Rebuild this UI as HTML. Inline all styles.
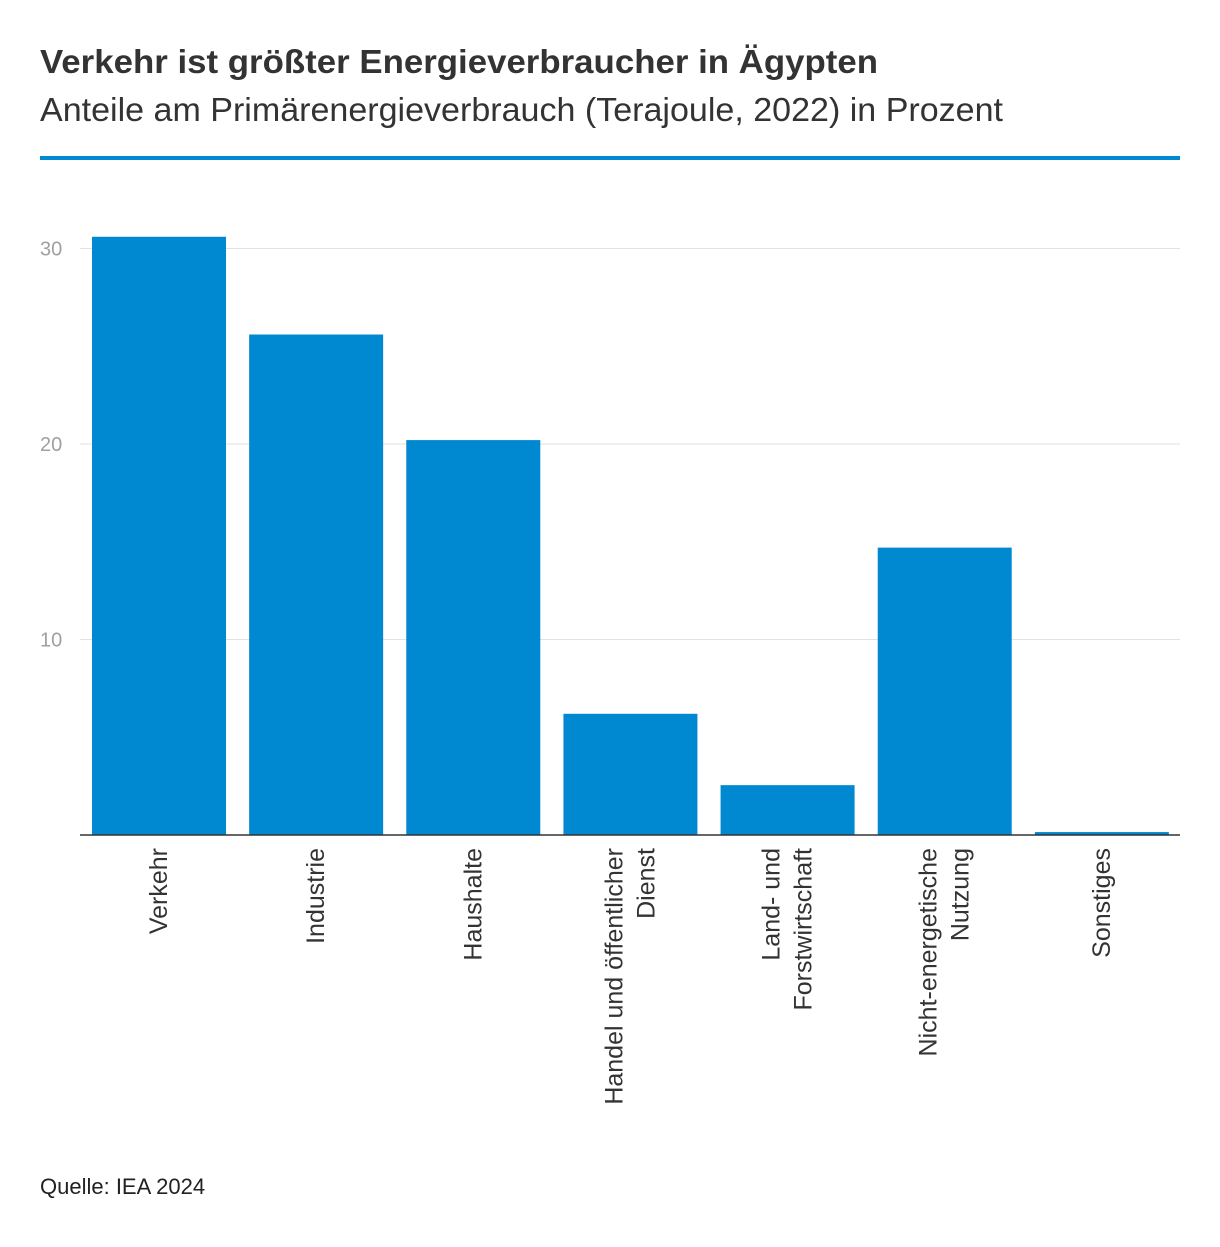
<!DOCTYPE html>
<html><head><meta charset="utf-8"><style>
body{margin:0;background:#fff;font-family:"Liberation Sans","DejaVu Sans",sans-serif;}
</style></head><body>
<svg width="1220" height="1242" xmlns="http://www.w3.org/2000/svg">
<text x="40" y="73" font-size="33" font-weight="bold" fill="#333" textLength="838" lengthAdjust="spacingAndGlyphs">Verkehr ist größter Energieverbraucher in Ägypten</text>
<text x="40" y="121" font-size="33" fill="#333" textLength="963" lengthAdjust="spacingAndGlyphs">Anteile am Primärenergieverbrauch (Terajoule, 2022) in Prozent</text>
<rect x="40" y="156" width="1140" height="4" fill="#0089d0"/>
<g id="grid"></g><g id="bars"></g><g id="xlabels"></g>
<line x1="80" y1="835" x2="1180" y2="835" stroke="#333" stroke-width="1.5"/>
<text x="40" y="1194" font-size="22" fill="#222">Quelle: IEA 2024</text>
</svg>
<script>
const categories=[["Verkehr"],["Industrie"],["Haushalte"],["Handel und öffentlicher","Dienst"],["Land- und","Forstwirtschaft"],["Nicht-energetische","Nutzung"],["Sonstiges"]];
const values=[30.6,25.6,20.2,6.2,2.55,14.7,0.15];
const ticks=[10,20,30];
const NS="http://www.w3.org/2000/svg";
const y0=835,pxPer=19.55,left=80,step=1100/7,pad=12,bw=134;
const y=v=>y0-v*pxPer;
const g=document.getElementById('grid');
ticks.forEach(t=>{
 const l=document.createElementNS(NS,'line');
 l.setAttribute('x1',80);l.setAttribute('x2',1180);l.setAttribute('y1',y(t));l.setAttribute('y2',y(t));
 l.setAttribute('stroke','#e2e2e2');l.setAttribute('stroke-width','1');
 
 
 g.appendChild(l);
 const tx=document.createElementNS(NS,'text');
 tx.setAttribute('x',40);tx.setAttribute('y',y(t)+7);tx.setAttribute('font-size','20');tx.setAttribute('fill','#a0a0a0');
 tx.textContent=t;
 
 
 g.appendChild(tx);
});
const b=document.getElementById('bars'),xl=document.getElementById('xlabels');
values.forEach((v,i)=>{
 const x=left+i*step+pad;
 const r=document.createElementNS(NS,'rect');
 r.setAttribute('x',x);r.setAttribute('y',y(v));r.setAttribute('width',bw);r.setAttribute('height',y0-y(v));r.setAttribute('fill','#0089d0');
 
 
 b.appendChild(r);
 const cx=x+bw/2, lines=categories[i];
 lines.forEach((s,j)=>{
  const off=(j-(lines.length-1)/2)*32;
  const t=document.createElementNS(NS,'text');
  const tx=cx+off+8;
  t.setAttribute('x',tx);t.setAttribute('y',848);
  t.setAttribute('transform','rotate(-90 '+tx+' 848)');
  t.setAttribute('text-anchor','end');
  t.setAttribute('font-size','25');t.setAttribute('fill','#333');
  t.textContent=s;
  
  
  xl.appendChild(t);
 });
});
</script>
</body></html>
